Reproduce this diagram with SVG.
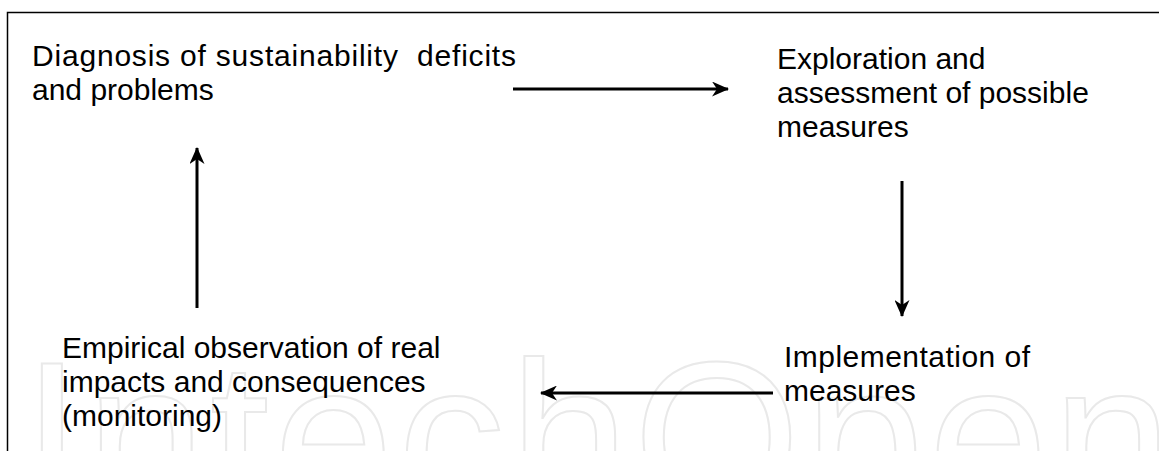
<svg xmlns="http://www.w3.org/2000/svg" width="1159" height="451" viewBox="0 0 1159 451">
<defs>
<style>
.t{font-family:"Liberation Sans",Arial,sans-serif;font-size:30px;fill:#000}
.c{stroke:#000;stroke-width:3;fill:none}
.frame{stroke:#000;stroke-width:1.5;fill:none}
.wm{font-family:"Liberation Sans",Arial,sans-serif;font-size:215px;fill:none;stroke:#e9e9e9;stroke-width:2}
</style>
<marker id="ah" viewBox="0 0 17 15" refX="16" refY="7.5" markerWidth="17" markerHeight="15" markerUnits="userSpaceOnUse" orient="auto">
<path d="M0,0 L17,7.5 L0,15 L5,7.5 Z" fill="#000"/>
</marker>
</defs>
<rect width="1159" height="451" fill="#fff"/>
<g id="watermark">
<text class="wm" x="22" y="512" textLength="1150" lengthAdjust="spacing">IntechOpen</text>
</g>
<path class="frame" d="M7.5,451 V12.5 H1159"/>
<g id="connectors">
<line class="c" x1="513" y1="89" x2="728" y2="89" marker-end="url(#ah)"/>
<line class="c" x1="902" y1="181" x2="902" y2="316" marker-end="url(#ah)"/>
<line class="c" x1="773" y1="393" x2="541" y2="393" marker-end="url(#ah)"/>
<line class="c" x1="197" y1="308" x2="197" y2="148" marker-end="url(#ah)"/>
</g>
<g id="node-diagnosis">
<text class="t" x="32" y="66" textLength="484" lengthAdjust="spacing" xml:space="preserve">Diagnosis of sustainability  deficits</text>
<text class="t" x="32" y="100">and problems</text>
</g>
<g id="node-exploration">
<text class="t" x="777" y="69">Exploration and</text>
<text class="t" x="777" y="103">assessment of possible</text>
<text class="t" x="777" y="137">measures</text>
</g>
<g id="node-implementation">
<text class="t" x="784" y="367" textLength="246" lengthAdjust="spacing">Implementation of</text>
<text class="t" x="784" y="401">measures</text>
</g>
<g id="node-monitoring">
<text class="t" x="62" y="358">Empirical observation of real</text>
<text class="t" x="62" y="392">impacts and consequences</text>
<text class="t" x="62" y="426">(monitoring)</text>
</g>
</svg>
